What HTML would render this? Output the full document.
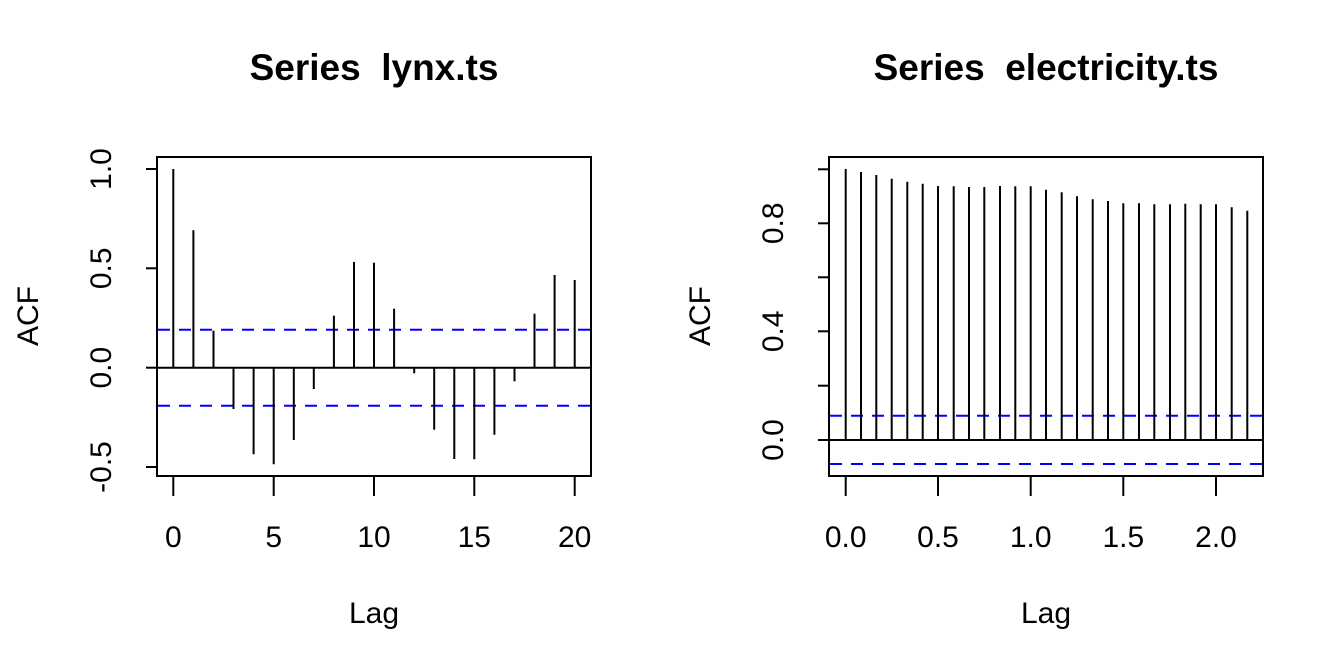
<!DOCTYPE html>
<html><head><meta charset="utf-8"><style>body{margin:0;background:#fff}svg{display:block}text{font-family:"Liberation Sans",Arial,sans-serif;fill:#000;white-space:pre}</style></head>
<body>
<svg width="1344" height="672" viewBox="0 0 1344 672" xmlns="http://www.w3.org/2000/svg">
<text x="374" y="80" font-size="37" font-weight="bold" text-anchor="middle" xml:space="preserve">Series&#160;&#160;lynx.ts</text>
<rect x="157" y="157" width="434" height="319" fill="none" stroke="#000" stroke-width="2"/>
<g stroke="#000" stroke-width="2">
<line x1="157" y1="169" x2="146" y2="169"/><line x1="157" y1="268.3" x2="146" y2="268.3"/><line x1="157" y1="367.7" x2="146" y2="367.7"/><line x1="157" y1="467" x2="146" y2="467"/>
<line x1="173.3" y1="476" x2="173.3" y2="496"/><line x1="273.7" y1="476" x2="273.7" y2="496"/><line x1="374" y1="476" x2="374" y2="496"/><line x1="474.3" y1="476" x2="474.3" y2="496"/><line x1="574.7" y1="476" x2="574.7" y2="496"/>
<line x1="157" y1="367.7" x2="591" y2="367.7"/>
</g>
<g font-size="30" text-anchor="middle">
<text transform="translate(111,169) rotate(-90)">1.0</text>
<text transform="translate(111,268.3) rotate(-90)">0.5</text>
<text transform="translate(111,367.7) rotate(-90)">0.0</text>
<text transform="translate(111,467) rotate(-90)">-0.5</text>
<text x="173.3" y="547">0</text><text x="273.7" y="547">5</text><text x="374" y="547">10</text><text x="474.3" y="547">15</text><text x="574.7" y="547">20</text>
<text x="374" y="623">Lag</text>
<text transform="translate(38,316) rotate(-90)">ACF</text>
</g>
<g stroke="#00f" stroke-width="2" stroke-dasharray="12,9">
<line x1="158" y1="329.7" x2="590" y2="329.7"/><line x1="158" y1="405.7" x2="590" y2="405.7"/>
</g>
<text x="1046" y="80" font-size="37" font-weight="bold" text-anchor="middle" xml:space="preserve">Series&#160;&#160;electricity.ts</text>
<rect x="829" y="157" width="434" height="319" fill="none" stroke="#000" stroke-width="2"/>
<g stroke="#000" stroke-width="2">
<line x1="829" y1="169.3" x2="818" y2="169.3"/><line x1="829" y1="223.3" x2="818" y2="223.3"/><line x1="829" y1="277.3" x2="818" y2="277.3"/><line x1="829" y1="331.3" x2="818" y2="331.3"/><line x1="829" y1="385.7" x2="818" y2="385.7"/><line x1="829" y1="440" x2="818" y2="440"/>
<line x1="845.7" y1="476" x2="845.7" y2="496"/><line x1="938" y1="476" x2="938" y2="496"/><line x1="1030.7" y1="476" x2="1030.7" y2="496"/><line x1="1123.3" y1="476" x2="1123.3" y2="496"/><line x1="1216" y1="476" x2="1216" y2="496"/>
<line x1="829" y1="440" x2="1263" y2="440"/>
</g>
<g font-size="30" text-anchor="middle">
<text transform="translate(783,223.3) rotate(-90)">0.8</text>
<text transform="translate(783,331.3) rotate(-90)">0.4</text>
<text transform="translate(783,440) rotate(-90)">0.0</text>
<text x="845.7" y="547">0.0</text><text x="938" y="547">0.5</text><text x="1030.7" y="547">1.0</text><text x="1123.3" y="547">1.5</text><text x="1216" y="547">2.0</text>
<text x="1046" y="623">Lag</text>
<text transform="translate(710,316) rotate(-90)">ACF</text>
</g>
<g stroke="#00f" stroke-width="2" stroke-dasharray="12,9">
<line x1="830" y1="415.7" x2="1262" y2="415.7"/><line x1="830" y1="464" x2="1262" y2="464"/>
</g>
<g stroke="#000" stroke-width="2">
<line x1="173.3" y1="367.7" x2="173.3" y2="169"/>
<line x1="193.4" y1="367.7" x2="193.4" y2="230.3"/>
<line x1="213.5" y1="367.7" x2="213.5" y2="330.7"/>
<line x1="233.5" y1="367.7" x2="233.5" y2="409"/>
<line x1="253.6" y1="367.7" x2="253.6" y2="454.3"/>
<line x1="273.7" y1="367.7" x2="273.7" y2="464.3"/>
<line x1="293.8" y1="367.7" x2="293.8" y2="440"/>
<line x1="313.8" y1="367.7" x2="313.8" y2="389"/>
<line x1="333.9" y1="367.7" x2="333.9" y2="315.7"/>
<line x1="354" y1="367.7" x2="354" y2="262"/>
<line x1="374" y1="367.7" x2="374" y2="262.7"/>
<line x1="394.1" y1="367.7" x2="394.1" y2="308.7"/>
<line x1="414.2" y1="367.7" x2="414.2" y2="373.3"/>
<line x1="434.2" y1="367.7" x2="434.2" y2="429.7"/>
<line x1="454.3" y1="367.7" x2="454.3" y2="459"/>
<line x1="474.3" y1="367.7" x2="474.3" y2="459.3"/>
<line x1="494.4" y1="367.7" x2="494.4" y2="434.7"/>
<line x1="514.5" y1="367.7" x2="514.5" y2="381.3"/>
<line x1="534.5" y1="367.7" x2="534.5" y2="313.7"/>
<line x1="554.6" y1="367.7" x2="554.6" y2="275"/>
<line x1="574.7" y1="367.7" x2="574.7" y2="280"/>
</g>
<g stroke="#000" stroke-width="2">
<line x1="845.7" y1="440" x2="845.7" y2="169"/>
<line x1="861" y1="440" x2="861" y2="172"/>
<line x1="876.3" y1="440" x2="876.3" y2="175"/>
<line x1="891.7" y1="440" x2="891.7" y2="178.7"/>
<line x1="907.3" y1="440" x2="907.3" y2="181.7"/>
<line x1="922.7" y1="440" x2="922.7" y2="183.7"/>
<line x1="938" y1="440" x2="938" y2="186"/>
<line x1="953.7" y1="440" x2="953.7" y2="186.3"/>
<line x1="969" y1="440" x2="969" y2="187"/>
<line x1="984.3" y1="440" x2="984.3" y2="187"/>
<line x1="1000" y1="440" x2="1000" y2="186"/>
<line x1="1015.3" y1="440" x2="1015.3" y2="186.3"/>
<line x1="1030.7" y1="440" x2="1030.7" y2="186.3"/>
<line x1="1046" y1="440" x2="1046" y2="189.7"/>
<line x1="1061.7" y1="440" x2="1061.7" y2="192.3"/>
<line x1="1077" y1="440" x2="1077" y2="196.3"/>
<line x1="1092.7" y1="440" x2="1092.7" y2="199.3"/>
<line x1="1108" y1="440" x2="1108" y2="201"/>
<line x1="1123.3" y1="440" x2="1123.3" y2="203.3"/>
<line x1="1139" y1="440" x2="1139" y2="203.3"/>
<line x1="1154.3" y1="440" x2="1154.3" y2="204.3"/>
<line x1="1170" y1="440" x2="1170" y2="204.3"/>
<line x1="1185.3" y1="440" x2="1185.3" y2="203.7"/>
<line x1="1200.7" y1="440" x2="1200.7" y2="204.3"/>
<line x1="1216" y1="440" x2="1216" y2="204.3"/>
<line x1="1231.7" y1="440" x2="1231.7" y2="207.3"/>
<line x1="1247.3" y1="440" x2="1247.3" y2="210.7"/>
</g>
</svg>
</body></html>
